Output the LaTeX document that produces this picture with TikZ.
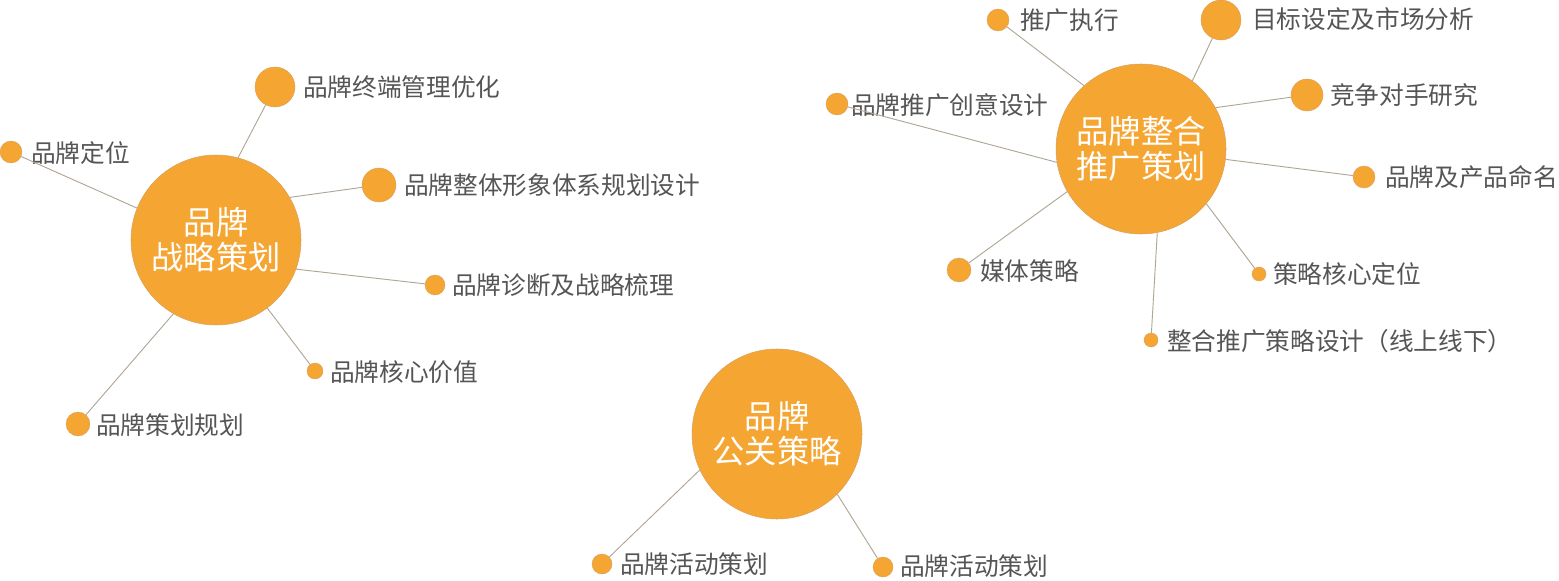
\documentclass[tikz,border=0pt]{standalone}
\usepackage{fontspec}
\setmainfont{Noto Sans CJK SC}
\definecolor{orng}{HTML}{F5A532}
\definecolor{orngb}{HTML}{D9A060}
\definecolor{txtg}{HTML}{555555}
\definecolor{linec}{HTML}{B0A696}
\tikzset{
  hub/.style={circle, fill=orng, draw=orngb, line width=0.4pt, minimum size=127.5pt, inner sep=0pt, text=white, align=center, font=\fontsize{24.2}{26.25}\selectfont},
  dot/.style={circle, fill=orng, draw=orngb, line width=0.3pt, inner sep=0pt, minimum size=#1},
  lbl/.style={anchor=west, inner sep=0pt, text=txtg, font=\fontsize{18.5}{20}\selectfont},
  link/.style={draw=linec, line width=0.7pt}
}
\begin{document}
\begin{tikzpicture}[x=0.75pt, y=-0.75pt]
\useasboundingbox (0,0) rectangle (1559,581);
% ---- left cluster
\node[hub] (h1) at (216,240) {品牌\\战略策划};
\node[dot=30pt] (a1) at (275,87) {};
\node[lbl] (t1) at (303,87) {品牌终端管理优化};
\node[dot=16.5pt] (a2) at (11,152) {};
\node[lbl] (t2) at (31,153) {品牌定位};
\node[dot=25.5pt] (a3) at (379,185) {};
\node[lbl] (t3) at (404,185) {品牌整体形象体系规划设计};
\node[dot=15pt] (a4) at (435,285) {};
\node[lbl] (t4) at (452,285) {品牌诊断及战略梳理};
\node[dot=12pt] (a5) at (315,371) {};
\node[lbl] (t5) at (330,372) {品牌核心价值};
\node[dot=18pt] (a6) at (78,424) {};
\node[lbl] (t6) at (96,425) {品牌策划规划};
\draw[link] (h1.75) -- (a1);
\draw[link] (h1.158) -- (a2);
\draw[link] (h1.30) -- (a3);
\draw[link] (h1.-20) -- (a4);
\draw[link] (h1.-53) -- (a5);
\draw[link] (h1.-120) -- (a6);
% ---- right cluster
\node[hub] (h2) at (1141,149) {品牌整合\\推广策划};
\node[dot=16.5pt] (b1) at (998,20) {};
\node[lbl] (u1) at (1020,20) {推广执行};
\node[dot=30pt] (b2) at (1221,20) {};
\node[lbl] (u2) at (1252,19) {目标设定及市场分析};
\node[dot=24pt] (b3) at (1307,95) {};
\node[lbl] (u3) at (1330,95) {竞争对手研究};
\node[dot=16.5pt] (b4) at (837,104) {};
\node[lbl] (u4) at (851,105) {品牌推广创意设计};
\node[dot=16.5pt] (b5) at (1364,177) {};
\node[lbl] (u5) at (1385,177) {品牌及产品命名};
\node[dot=18pt] (b6) at (959,270) {};
\node[lbl] (u6) at (980,271) {媒体策略};
\node[dot=10.5pt] (b7) at (1259,274) {};
\node[lbl] (u7) at (1273,274) {策略核心定位};
\node[dot=10.5pt] (b8) at (1151,340) {};
\node[lbl] (u8) at (1167,341) {整合推广策略设计（线上线下）};
\draw[link] (h2.132) -- (b1);
\draw[link] (h2.53) -- (b2);
\draw[link] (h2.29) -- (b3);
\draw[link] (h2.-171) -- (b4);
\draw[link] (h2.-7) -- (b5);
\draw[link] (h2.-150) -- (b6);
\draw[link] (h2.-40) -- (b7);
\draw[link] (h2.-79) -- (b8);
% ---- bottom cluster
\node[hub] (h3) at (777,434) {品牌\\公关策略};
\node[dot=15pt] (c1) at (602,564) {};
\node[lbl] (v1) at (620,564) {品牌活动策划};
\node[dot=15pt] (c2) at (883,567) {};
\node[lbl] (v2) at (900,566) {品牌活动策划};
\draw[link] (h3.-155) -- (c1);
\draw[link] (h3.-45) -- (c2);
\end{tikzpicture}
\end{document}
